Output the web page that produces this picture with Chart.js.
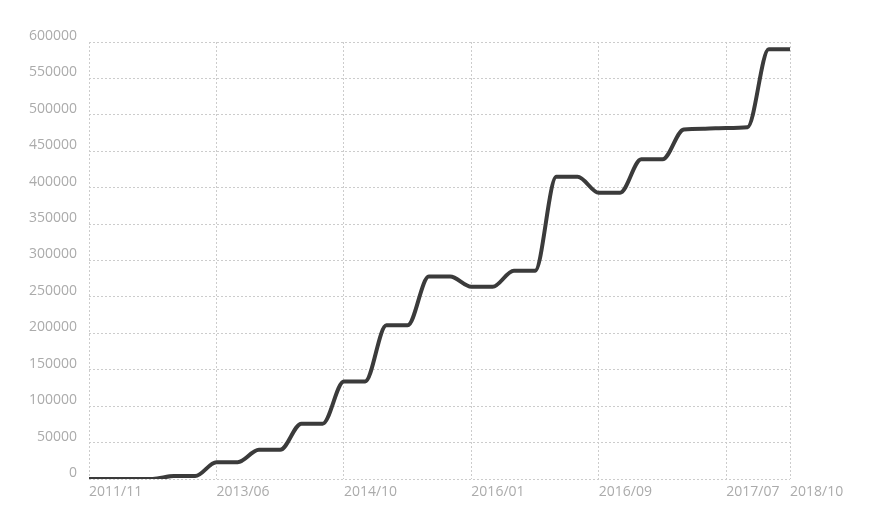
<!DOCTYPE html>
<html>
<head>
<meta charset="utf-8">
<script src="https://cdn.jsdelivr.net/npm/chart.js@4/dist/chart.umd.min.js"></script>
<style>
  html, body { margin: 0; padding: 0; background: #fff; }
  #wrap { width: 876px; height: 529px; }
</style>
</head>
<body>
<div id="wrap"><canvas id="chart" width="876" height="529"></canvas></div>
<script>
// x categories: only the labelled ones are known, the rest stay blank
const categories = [
  '2011/11', '', '', '', '', '',
  '2013/06', '', '', '', '', '',
  '2014/10', '', '', '', '', '',
  '2016/01', '', '', '', '', '',
  '2016/09', '', '', '', '', '',
  '2017/07', '', '',
  '2018/10'
];

const values = [
  0, 0, 0, 0, 4000, 4000,
  23000, 23000, 40000, 40000, 76000, 76000,
  134000, 134000, 211000, 211000, 278000, 278000,
  264000, 264000, 286000, 286000, 415000, 415000,
  393000, 393000, 439000, 439000, 480000, 481000,
  482000, 483000, 590000,
  590000
];

const yTicks = [0, 50000, 100000, 150000, 200000, 250000, 300000, 350000, 400000, 450000, 500000, 550000, 600000];

const gridColor = '#cccccc';
const tickColor = '#ababab';
const tickFont = { family: '"Open Sans", sans-serif', size: 14, weight: 'normal' };

new Chart(document.getElementById('chart'), {
  type: 'line',
  data: {
    labels: categories,
    datasets: [{
      data: values,
      borderColor: '#3b3b3b',
      borderWidth: 4,
      pointRadius: 0,
      fill: false,
      cubicInterpolationMode: 'monotone'
    }]
  },
  options: {
    responsive: false,
    animation: false,
    layout: { padding: { left: 0, top: 42, right: 86, bottom: 0 } },
    plugins: { legend: { display: false }, tooltip: { enabled: false } },
    scales: {
      x: {
        offset: false,
        grid: { color: gridColor, lineWidth: 1, drawTicks: false },
        border: { display: false, dash: [2, 2] },
        ticks: {
          autoSkip: false,
          maxRotation: 0,
          align: 'start',
          padding: 5,
          color: tickColor,
          font: tickFont,
          callback: function (v, i) {
            const l = categories[i];
            return l ? l : null;
          }
        },
        afterFit: function (s) { s.height = 50; }
      },
      y: {
        min: yTicks[0],
        max: yTicks[yTicks.length - 1],
        grid: { color: gridColor, lineWidth: 1, drawTicks: false },
        border: { display: false, dash: [2, 2] },
        ticks: {
          stepSize: yTicks[1] - yTicks[0],
          padding: 12,
          labelOffset: -6,
          color: tickColor,
          font: tickFont,
          callback: function (v) { return String(v); }
        },
        afterFit: function (s) { s.width = 89; }
      }
    }
  }
});
</script>
</body>
</html>
